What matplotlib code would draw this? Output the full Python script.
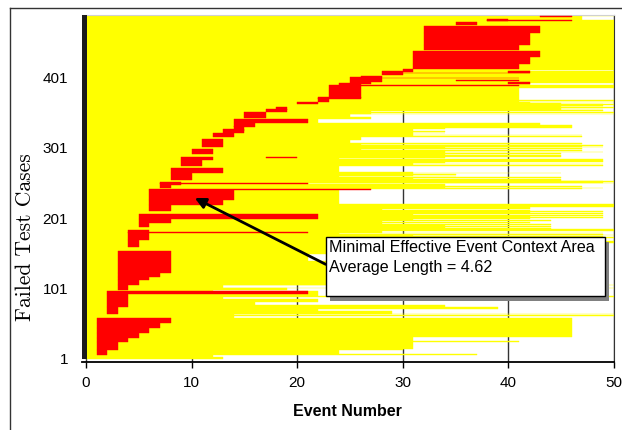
import matplotlib
matplotlib.use("Agg")
import matplotlib.pyplot as plt
from matplotlib.patches import Rectangle
from matplotlib.lines import Line2D

n_cases = 489  # failed test cases, rows 1..489 bottom to top

# yellow = whole test case: each run starts at a row and lasts until the next run
yellow_first = [1, 4, 7, 9, 14, 16, 25, 27, 33, 59,
                62, 64, 65, 66, 69, 73, 76, 78, 83, 87,
                90, 91, 98, 100, 102, 103, 106, 107, 111, 126,
                141, 151, 166, 169, 174, 175, 176, 177, 178, 179,
                180, 181, 183, 184, 185, 186, 188, 189, 190, 192,
                193, 195, 196, 197, 199, 200, 202, 203, 204, 206,
                207, 209, 210, 211, 213, 214, 217, 218, 221, 243,
                244, 245, 246, 247, 248, 249, 250, 251, 252, 253,
                254, 255, 257, 258, 260, 261, 262, 263, 264, 265,
                266, 267, 276, 277, 278, 279, 280, 281, 282, 283,
                285, 286, 287, 289, 291, 292, 294, 295, 296, 297,
                298, 299, 300, 301, 302, 303, 304, 305, 306, 307,
                308, 313, 317, 318, 319, 320, 322, 323, 324, 326,
                328, 330, 332, 333, 334, 336, 342, 345, 349, 350,
                351, 352, 354, 355, 356, 357, 358, 359, 360, 361,
                362, 363, 364, 365, 366, 367, 368, 370, 387, 391,
                394, 410, 412, 483, 488]
yellow_len = [13, 12, 37, 24, 30, 31, 41, 31, 46, 14,
              50, 14, 50, 29, 22, 39, 34, 16, 22, 13,
              50, 22, 12, 19, 50, 13, 50, 23, 30, 26,
              21, 28, 50, 24, 50, 49, 31, 50, 49, 24,
              49, 28, 50, 28, 50, 44, 34, 44, 34, 44,
              28, 42, 28, 44, 31, 42, 49, 42, 49, 31,
              49, 42, 49, 42, 28, 42, 24, 50, 24, 47,
              49, 34, 47, 34, 21, 34, 21, 50, 49, 50,
              49, 45, 31, 45, 24, 35, 31, 35, 31, 45,
              31, 24, 49, 31, 49, 31, 34, 49, 45, 49,
              34, 24, 34, 45, 34, 45, 34, 49, 34, 47,
              34, 26, 47, 34, 49, 47, 49, 47, 26, 47,
              25, 26, 47, 31, 47, 31, 34, 31, 34, 31,
              34, 46, 43, 46, 43, 22, 27, 25, 50, 27,
              50, 27, 49, 45, 49, 45, 50, 49, 45, 49,
              50, 49, 45, 42, 50, 41, 50, 41, 50, 42,
              50, 42, 50, 47, 50]

# red = minimal effective event context area: (first row, last row, first event, last event)
red_lo = [7, 14, 25, 32, 38, 45, 52, 65, 76, 94, 100, 107, 113, 118, 124, 160, 171, 181,
          189, 194, 201, 211, 220, 228, 242, 245, 249, 250, 256, 266, 275, 284, 287,
          292, 302, 317, 323, 326, 331, 336, 344, 353, 355, 364, 367, 371, 372, 389,
          389, 392, 395, 397, 400, 392, 405, 409, 407, 407, 413, 421, 430, 440, 447,
          465, 476, 481, 482, 487]
red_hi = [13, 24, 31, 37, 44, 51, 58, 75, 93, 97, 106, 112, 117, 123, 154, 170, 183, 181,
          193, 200, 207, 219, 227, 241, 242, 248, 252, 250, 265, 272, 283, 288, 287,
          299, 313, 322, 327, 331, 336, 342, 352, 355, 359, 366, 371, 373, 389, 392,
          389, 401, 403, 397, 400, 394, 410, 412, 407, 410, 420, 429, 438, 446, 464,
          473, 479, 484, 482, 488]
red_start = [1, 1, 1, 1, 1, 1, 1, 2, 2, 2, 3, 3, 3, 3, 3, 4, 4, 4,
             5, 5, 5, 6, 6, 6, 6, 7, 7, 7, 8, 8, 9, 9, 17,
             10, 11, 12, 13, 14, 14, 14, 15, 17, 18, 20, 22, 22, 23, 24,
             24, 25, 26, 35, 27, 40, 28, 30, 30, 40, 31, 31, 31, 32, 32,
             32, 35, 38, 38, 43]
red_end = [2, 3, 4, 5, 6, 7, 8, 3, 4, 21, 4, 5, 6, 7, 8, 5, 6, 21,
           6, 8, 22, 8, 13, 14, 27, 8, 9, 21, 10, 13, 11, 12, 20,
           12, 13, 14, 15, 15, 16, 21, 17, 19, 19, 22, 23, 26, 26, 26,
           41, 27, 28, 41, 41, 42, 30, 31, 42, 42, 41, 42, 43, 41, 42,
           43, 37, 40, 46, 46]

x_ticks = [0, 10, 20, 30, 40, 50]
y_ticks = [1, 101, 201, 301, 401]

YELLOW = "#ffff00"
RED = "#ff0000"

fig = plt.figure(figsize=(6.22, 4.30), dpi=100)
ax = fig.add_axes([81.8 / 622, 68 / 430, 532.2 / 622, 347.5 / 430])

ax.set_axisbelow(True)
ax.grid(axis="x", color="#333333", linewidth=1.0)

# yellow runs
ends = yellow_first[1:] + [n_cases + 1]
yh = [b - a for a, b in zip(yellow_first, ends)]
ycen = [a - 0.5 + h / 2 for a, h in zip(yellow_first, yh)]
ax.barh(ycen, yellow_len, height=yh, left=0, color=YELLOW,
        edgecolor=YELLOW, linewidth=0.3, zorder=2)

rcen = [(lo + hi) / 2 for lo, hi in zip(red_lo, red_hi)]
rh = [hi - lo + 1 for lo, hi in zip(red_lo, red_hi)]
rw = [e - s for s, e in zip(red_start, red_end)]
ax.barh(rcen, rw, height=rh, left=red_start, color=RED,
        edgecolor=RED, linewidth=0.3, zorder=3)

# thick dark bar at event 0
ax.barh((n_cases + 1) / 2, 0.52, height=n_cases, left=-0.4,
        color="#1c1c1c", linewidth=0, zorder=4)

ax.set_xlim(-0.4, 50)
ax.set_ylim(-3.3, 490.3)
ax.set_xticks(x_ticks)
ax.set_yticks(y_ticks)
ax.set_yticklabels([str(t) for t in y_ticks])
ax.tick_params(axis="x", direction="out", length=4, width=1, pad=6,
               labelsize=11, labelfontfamily="Liberation Sans")
ax.tick_params(axis="y", length=0, pad=10, labelsize=11,
               labelfontfamily="Liberation Sans")

ax.spines["left"].set_visible(False)
ax.spines["bottom"].set_linewidth(1.3)
ax.spines["right"].set_color("#333333")
ax.spines["top"].set_color("#d0d0d0")

ax.set_xlabel("Event Number", fontsize=11.5, fontweight="bold",
              family="Liberation Sans", labelpad=10)
ax.set_ylabel("Failed Test Cases", fontsize=15.5, family="cmr10")
ax.yaxis.set_label_coords(-0.088, 0.36)

# callout box with drop shadow
ax.add_patch(Rectangle((0.466, 0.1755), 0.525, 0.17, transform=ax.transAxes,
                       facecolor="#808080", edgecolor="none", zorder=6))
ax.add_patch(Rectangle((0.4587, 0.1899), 0.5244, 0.1698, transform=ax.transAxes,
                       facecolor="white", edgecolor="black", linewidth=1.0, zorder=7))
ax.text(0.4636, 0.3174, "Minimal Effective Event Context Area", transform=ax.transAxes,
        fontsize=11.6, family="Liberation Sans", va="baseline", zorder=8)
ax.text(0.4636, 0.2599, "Average Length = 4.62", transform=ax.transAxes,
        fontsize=11.6, family="Liberation Sans", va="baseline", zorder=8)
ax.annotate("", xy=(10.3, 229.7), xytext=(22.7, 135.4),
            arrowprops=dict(arrowstyle="-|>", color="black", lw=2,
                            mutation_scale=16, shrinkA=0, shrinkB=0),
            zorder=5)

# outer frame (left and top edges)
fig.add_artist(Line2D([9.5 / 622, 9.5 / 622], [0, 1 - 7.5 / 430],
                      color="#333333", linewidth=1))
fig.add_artist(Line2D([9.5 / 622, 1], [1 - 7.5 / 430, 1 - 7.5 / 430],
                      color="#333333", linewidth=1))

fig.savefig("out.png", dpi=100)
